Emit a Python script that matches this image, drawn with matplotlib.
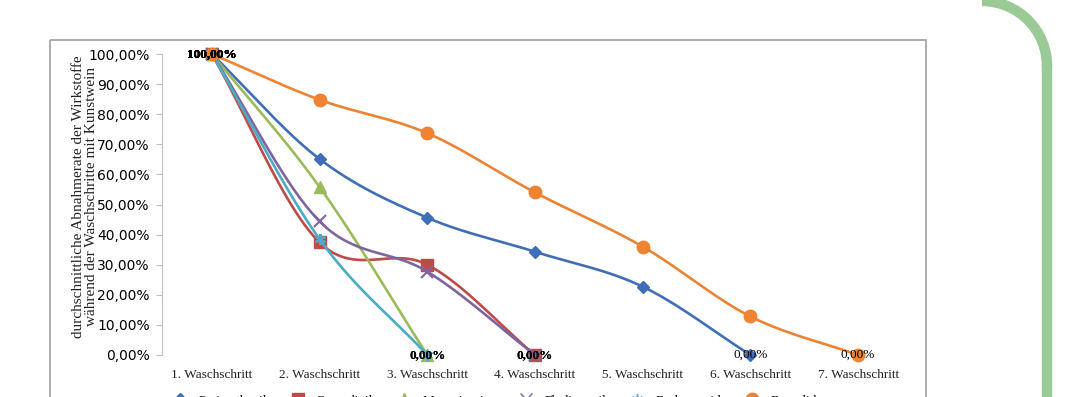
import numpy as np
import matplotlib.pyplot as plt
from matplotlib.patches import Rectangle, Arc
from matplotlib.lines import Line2D

steps = ['1. Waschschritt', '2. Waschschritt', '3. Waschschritt', '4. Waschschritt',
         '5. Waschschritt', '6. Waschschritt', '7. Waschschritt']
pyrimethanil = [1.00, 0.651, 0.456, 0.343, 0.227, 0.0]
cyprodinil = [1.00, 0.374, 0.300, 0.0]
mepanipyrim = [1.00, 0.558, 0.0]
fludioxonil = [1.00, 0.444, 0.277, 0.0]
fenhexamid = [1.00, 0.385, 0.0]
boscalid = [1.00, 0.848, 0.737, 0.540, 0.360, 0.128, 0.0]
names = ['Pyrimethanil', 'Cyprodinil', 'Mepanipyrim', 'Fludioxonil', 'Fenhexamid', 'Boscalid']
series = [pyrimethanil, cyprodinil, mepanipyrim, fludioxonil, fenhexamid, boscalid]
colors = ['#3f6fb8', '#be4b48', '#9bbb59', '#8064a2', '#4bacc6', '#ee8433']
markers = ['D', 's', '^', 'x', (6, 2, 0), 'o']
msizes = [6, 8, 8, 8, 8, 9]

serif = 'Liberation Serif'
sans = 'Liberation Sans'


def smooth(y, n=30):
    # Catmull-Rom spline through the points (like Excel "smoothed line")
    pts = np.column_stack([np.arange(len(y)), y]).astype(float)
    if len(pts) < 3:
        return pts[:, 0], pts[:, 1]
    p = np.vstack([2 * pts[0] - pts[1], pts, 2 * pts[-1] - pts[-2]])
    out = []
    t = np.linspace(0, 1, n)[:, None]
    for i in range(1, len(p) - 2):
        p0, p1, p2, p3 = p[i - 1], p[i], p[i + 1], p[i + 2]
        c1 = p1 + (p2 - p0) / 6
        c2 = p2 - (p3 - p1) / 6
        seg = ((1 - t) ** 3) * p1 + 3 * ((1 - t) ** 2) * t * c1 + 3 * (1 - t) * t ** 2 * c2 + t ** 3 * p2
        out.append(seg if i == 1 else seg[1:])
    out = np.vstack(out)
    return out[:, 0], out[:, 1]


fig = plt.figure(figsize=(10.66, 3.97), dpi=100)

# background decorations in pixel coordinates
bg = fig.add_axes([0, 0, 1, 1])
bg.set_xlim(0, 1066)
bg.set_ylim(397, 0)
bg.axis('off')
bg.add_patch(Rectangle((50, 40), 876, 400, fill=False, edgecolor='#a6a6a6', linewidth=1.3))
bg.add_patch(Arc((982, 66), 130, 130, theta1=270, theta2=360, color='#9acb97', linewidth=7.5))
bg.plot([1047, 1047], [64, 400], color='#9acb97', linewidth=7.5, solid_capstyle='butt')

ax = fig.add_axes([158 / 1066, 42 / 397, 754 / 1066, 301 / 397])
ax.set_xlim(-0.5, 6.5)
ax.set_ylim(0, 1.0)
ax.patch.set_alpha(0)

for vals, name, c, m, ms in zip(series, names, colors, markers, msizes):
    xs, ys = smooth(vals)
    ax.plot(xs, ys, color=c, linewidth=1.9, clip_on=False)
    ax.plot(range(len(vals)), vals, linestyle='none', marker=m, color=c, markersize=ms,
            markeredgewidth=1.5 if m in ('x', (6, 2, 0)) else 1, clip_on=False)

ends = [len(v) - 1 for v in series]
for vals in series:
    ax.text(0, vals[0], '100,00%', ha='center', va='center', family=serif, fontsize=9.5,
            color='black', fontweight='bold')
    e = len(vals) - 1
    ax.text(e, vals[-1], '0,00%', ha='center', va='center', family=serif, fontsize=9.5,
            color='black', fontweight='bold' if ends.count(e) > 1 else 'normal')

ax.set_yticks(np.arange(0, 1.01, 0.1))
ax.set_yticklabels([('%.2f%%' % (v * 100)).replace('.', ',') for v in np.arange(0, 1.01, 0.1)],
                   family=sans, fontsize=7.5, color='#404040')
ax.set_xticks(range(7))
ax.set_xticklabels(steps, family=serif, fontsize=9.5, color='#222222')
ax.tick_params(axis='x', length=0, pad=10)
ax.tick_params(axis='y', length=4, color='#bfbfbf', pad=5)
for s in ['top', 'right', 'bottom']:
    ax.spines[s].set_visible(False)
ax.spines['left'].set_color('#bfbfbf')
ax.spines['left'].set_position(('data', -0.46))

fig.text(0.0795, 0.505, 'durchschnittliche Abnahmerate der Wirkstoffe\nwährend der Waschschritte mit Kunstwein',
         rotation=90, ha='center', va='center', family=serif, fontsize=11, color='#222222',
         linespacing=1.0)

handles = [Line2D([0], [0], color=c, marker=m, markersize=ms, linewidth=1.9)
           for c, m, ms in zip(colors, markers, msizes)]
fig.legend(handles, names, loc='center', bbox_to_anchor=(0.461, -0.009), ncol=6, frameon=False,
           prop={'family': serif, 'size': 9.5}, handlelength=2.1, handletextpad=0.35,
           columnspacing=1.3)

fig.savefig('out.png', dpi=100)
